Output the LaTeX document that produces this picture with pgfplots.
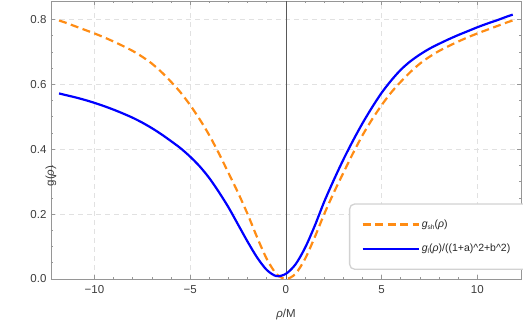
\documentclass[border=0pt]{standalone}
\usepackage{fontspec}
\setmainfont{Liberation Sans}
\usepackage{pgfplots}
\pgfplotsset{compat=1.18}
\definecolor{gorange}{RGB}{255,140,20}
\definecolor{frameg}{RGB}{150,150,150}
\definecolor{gridg}{RGB}{225,225,225}
\definecolor{lbl}{RGB}{60,60,60}
\begin{document}
\begin{tikzpicture}
\begin{axis}[
  at={(0pt,0pt)}, anchor=south west,
  scale only axis, width=470pt, height=278pt,
  xmin=-12.27, xmax=12.28, ymin=0, ymax=0.857,
  axis line style={frameg, line width=0.7pt},
  xtick={-10,-5,0,5,10}, xticklabels={−10,−5,0,5,10},
  ytick={0,0.2,0.4,0.6,0.8}, yticklabels={0.0,0.2,0.4,0.6,0.8},
  minor x tick num=4, minor y tick num=3,
  tick align=inside, major tick length=4pt, minor tick length=2.5pt,
  tick style={frameg, line width=0.7pt},
  ticklabel style={font=\fontsize{11.5}{13}\selectfont, text=lbl},
  xticklabel style={yshift=-3pt},
  yticklabel style={xshift=-1pt},
  grid=major,
  major grid style={gridg, dash pattern=on 5pt off 4pt, line width=0.7pt},
  xlabel={\textit{ρ}/M}, ylabel={g(\textit{ρ})},
  label style={font=\fontsize{11.5}{13}\selectfont, text=lbl},
  xlabel style={at={(axis description cs:0.5,0)}, anchor=center, yshift=-36pt},
  ylabel style={at={(axis description cs:0,0.5)}, anchor=center, xshift=-36pt},
  legend style={at={(axis description cs:0.634,0.272)}, anchor=north west,
    draw=gray!35, line width=1.3pt, rounded corners=5pt, fill=white,
    font=\fontsize{10.5}{12}\selectfont, text=black!85,
    inner xsep=12pt, inner ysep=14pt, row sep=11pt, cells={anchor=west}},
  legend image code/.code={\draw[#1] (0pt,0pt) -- (56pt,0pt);},
]
\addplot[black!65, line width=0.8pt, forget plot] coordinates {(0,0) (0,0.857)};
\addplot[gorange, line width=2.2pt, dash pattern=on 8pt off 4.5pt, smooth] coordinates {
(-11.85,0.797) (-11.5,0.790) (-11,0.779) (-10.5,0.768) (-10,0.757) (-9.5,0.745)
(-9,0.732) (-8.5,0.718) (-8,0.703) (-7.5,0.685) (-7,0.664) (-6.5,0.638) (-6,0.608)
(-5.5,0.575) (-5,0.536) (-4.5,0.492) (-4,0.443) (-3.5,0.387) (-3,0.327) (-2.5,0.266)
(-2,0.200) (-1.5,0.128) (-1,0.062) (-0.5,0.016) (0,0.0) (0.5,0.016) (1,0.062)
(1.5,0.128) (2,0.200) (2.5,0.266) (3,0.327) (3.5,0.387) (4,0.443) (4.5,0.492)
(5,0.536) (5.5,0.575) (6,0.608) (6.5,0.638) (7,0.664) (7.5,0.685) (8,0.703)
(8.5,0.718) (9,0.732) (9.5,0.745) (10,0.757) (10.5,0.768) (11,0.779) (11.5,0.790)
(11.85,0.797)};
\addlegendentry{\textit{g}{\fontsize{6.5}{7}\selectfont\raisebox{-1.5pt}{sh}}(\textit{ρ})}
\addplot[blue, line width=2.2pt, smooth] coordinates {
(-11.85,0.572) (-11.5,0.567) (-11,0.560) (-10.5,0.552) (-10,0.543) (-9.5,0.533)
(-9,0.522) (-8.5,0.510) (-8,0.497) (-7.5,0.482) (-7,0.465) (-6.5,0.446) (-6,0.425)
(-5.5,0.403) (-5,0.377) (-4.5,0.347) (-4,0.311) (-3.5,0.268) (-3,0.221) (-2.5,0.168)
(-2,0.115) (-1.5,0.066) (-1,0.028) (-0.5,0.009) (0,0.016) (0.5,0.045) (1,0.096)
(1.5,0.163) (2,0.238) (2.5,0.305) (3,0.368) (3.5,0.426) (4,0.480) (4.5,0.529)
(5,0.574) (5.5,0.612) (6,0.645) (6.5,0.671) (7,0.692) (7.5,0.710) (8,0.725)
(8.5,0.739) (9,0.752) (9.5,0.764) (10,0.776) (10.5,0.787) (11,0.797) (11.5,0.808)
(11.85,0.815)};
\addlegendentry{\textit{g}{\fontsize{6.5}{7}\selectfont\raisebox{-1.5pt}{l}}(\textit{ρ})/((1+a)\string^2+b\string^2)\hspace*{20pt}}
\end{axis}
\pgfresetboundingbox
\path[use as bounding box] (-51pt,-48pt) rectangle (472pt,279pt);
\end{tikzpicture}
\end{document}
